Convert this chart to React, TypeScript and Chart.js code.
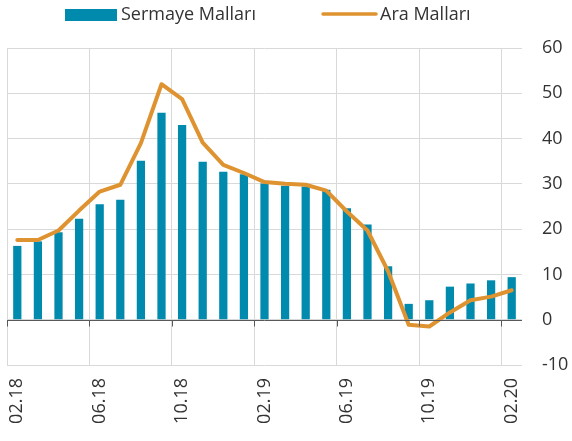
import React, { useEffect, useRef } from "react";
import { Chart, registerables } from "chart.js";

Chart.register(...registerables);

const months = [
  "02.18", "03.18", "04.18", "05.18", "06.18", "07.18", "08.18", "09.18", "10.18", "11.18", "12.18", "01.19",
  "02.19", "03.19", "04.19", "05.19", "06.19", "07.19", "08.19", "09.19", "10.19", "11.19", "12.19", "01.20", "02.20",
];
const sermayeMallari = [
  16.3, 17.3, 19.3, 22.3, 25.5, 26.5, 35.1, 45.7, 43.0, 34.9, 32.7, 32.1,
  30.1, 29.6, 29.4, 28.7, 24.6, 21.0, 11.8, 3.5, 4.3, 7.3, 8.0, 8.7, 9.4,
];
const araMallari = [
  17.6, 17.6, 19.7, 24.1, 28.3, 29.8, 39.0, 52.0, 48.7, 39.1, 34.2, 32.4,
  30.4, 30.0, 29.8, 28.5, 23.9, 19.7, 10.7, -1.1, -1.5, 1.6, 4.3, 5.1, 6.5,
];
const yTicks = [-10, 0, 10, 20, 30, 40, 50, 60];
const labelEvery = 4;

const TEAL = "#008AAD";
const ORANGE = "#DF9330";
const GRID = "#D9D9D9";
const AXIS = "#595959";
const TEXT = "#333333";
const FONT = "'Open Sans', sans-serif";

const legendPlugin = {
  id: "customLegend",
  afterDraw(chart: any) {
    const ctx = chart.ctx;
    const ds = chart.data.datasets;
    const bar = ds.find((d: any) => d.type === "bar");
    const line = ds.find((d: any) => d.type === "line");
    ctx.save();
    ctx.font = `18px ${FONT}`;
    ctx.textBaseline = "middle";
    ctx.textAlign = "left";
    ctx.fillStyle = bar.backgroundColor;
    ctx.fillRect(65, 9, 52, 12);
    ctx.fillStyle = TEXT;
    ctx.fillText(bar.label, 121, 15);
    ctx.strokeStyle = line.borderColor;
    ctx.lineWidth = 3.5;
    ctx.lineCap = "round";
    ctx.beginPath();
    ctx.moveTo(323, 14);
    ctx.lineTo(376, 14);
    ctx.stroke();
    ctx.fillStyle = TEXT;
    ctx.fillText(line.label, 380, 15);
    ctx.restore();
  },
};

const tickMarkPlugin = {
  id: "zeroTicks",
  afterDatasetsDraw(chart: any) {
    const x = chart.scales.x;
    const y = chart.scales.y;
    const ctx = chart.ctx;
    const y0 = Math.round(y.getPixelForValue(0)) + 0.5;
    const half = (x.getPixelForTick(1) - x.getPixelForTick(0)) / 2;
    ctx.save();
    ctx.strokeStyle = AXIS;
    ctx.lineWidth = 1;
    ctx.beginPath();
    for (let i = 0; i < months.length; i += labelEvery) {
      const px = Math.round(x.getPixelForTick(i) - half) + 0.5;
      ctx.moveTo(px, y0);
      ctx.lineTo(px, y0 + 6);
    }
    ctx.moveTo(x.left, y0);
    ctx.lineTo(x.right, y0);
    ctx.stroke();
    ctx.restore();
  },
};

export default function App() {
  const ref = useRef<HTMLCanvasElement | null>(null);
  useEffect(() => {
    if (!ref.current) return;
    const chart = new Chart(ref.current, {
      data: {
        labels: months,
        datasets: [
          {
            type: "line",
            label: "Ara Malları",
            data: araMallari,
            borderColor: ORANGE,
            backgroundColor: ORANGE,
            borderWidth: 4,
            pointRadius: 0,
            tension: 0,
            borderJoinStyle: "round",
            borderCapStyle: "round",
            order: 0,
          },
          {
            type: "bar",
            label: "Sermaye Malları",
            data: sermayeMallari,
            backgroundColor: TEAL,
            barPercentage: 0.4,
            categoryPercentage: 1,
            order: 1,
          },
        ],
      } as any,
      options: {
        animation: false,
        responsive: true,
        maintainAspectRatio: false,
        layout: { padding: { top: 48, left: 7, right: 0, bottom: 0 } },
        plugins: {
          legend: { display: false },
          tooltip: { enabled: false },
        },
        scales: {
          x: {
            type: "category",
            offset: true,
            afterFit: (s: any) => {
              s.height = 76;
              s.paddingRight = 0;
              s.paddingLeft = 0;
            },
            grid: {
              offset: true,
              drawTicks: false,
              color: (c: any) => (c.index % labelEvery === 0 ? GRID : "rgba(0,0,0,0)"),
            },
            border: { display: false },
            ticks: {
              autoSkip: false,
              maxRotation: 90,
              minRotation: 90,
              padding: 13,
              color: TEXT,
              font: { family: FONT, size: 18 },
              callback: (_v: any, i: number) => (i % labelEvery === 0 ? months[i] : ""),
            },
          },
          y: {
            position: "right",
            min: yTicks[0],
            max: yTicks[yTicks.length - 1],
            afterBuildTicks: (s: any) => {
              s.ticks = yTicks.map((v) => ({ value: v }));
            },
            afterFit: (s: any) => {
              s.width = 50;
            },
            grid: {
              drawTicks: false,
              color: GRID,
            },
            border: { display: false },
            ticks: {
              padding: 20,
              color: TEXT,
              font: { family: FONT, size: 18 },
            },
          },
        },
      },
      plugins: [legendPlugin, tickMarkPlugin],
    });
    return () => chart.destroy();
  }, []);
  return (
    <div style={{ position: "fixed", left: 0, top: 0, width: 572, height: 441 }}>
      <canvas ref={ref} />
    </div>
  );
}
